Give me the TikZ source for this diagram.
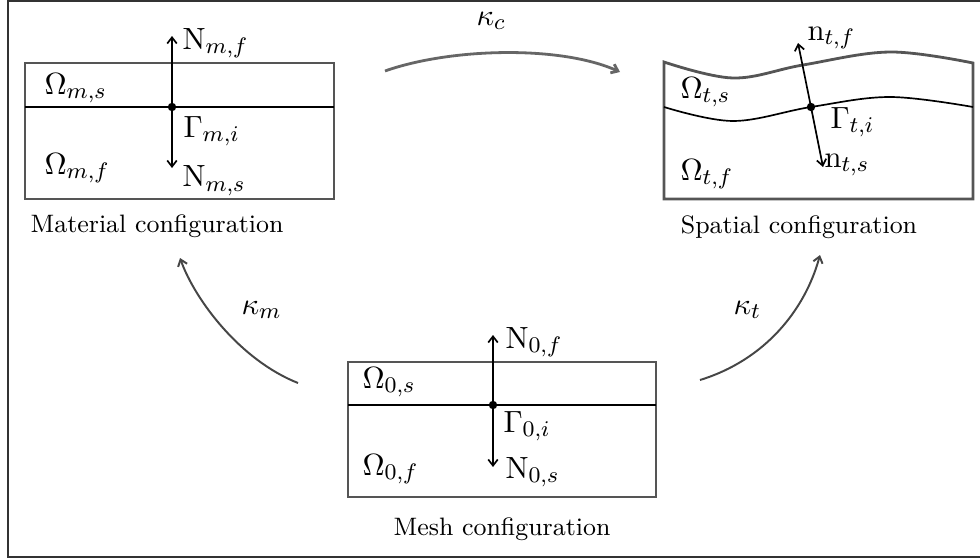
\documentclass[tikz,border=0pt]{standalone}
\usepackage{amsmath}
\usepackage{xcolor}
\definecolor{framegray}{RGB}{50, 50, 50}
\definecolor{boxgray}{RGB}{85, 85, 85}
\definecolor{mapgray}{RGB}{70, 70, 70}
\usetikzlibrary{arrows.meta}

\begin{document}
\begin{tikzpicture}[x=0.357pt, y=-0.357pt,
  outline/.style={boxgray, line width=1pt},
  iface/.style={black, line width=0.6pt},
  normal/.style={black, line width=0.6pt, -{Straight Barb[length=2.2pt, width=3.4pt]}},
  mapping/.style={mapgray, line width=0.7pt, -{Straight Barb[length=2.2pt, width=3.4pt]}},
  sym/.style={font=\fontsize{10.95}{13}\selectfont, anchor=base west, inner sep=0pt},
  caption/.style={font=\fontsize{9}{11}\selectfont, anchor=base, inner sep=0pt}]

  \useasboundingbox (0,0) rectangle (980,560);

  % outer frame, open on the right
  \draw[framegray, line width=0.7pt] (995,1) -- (8,1) -- (8,557) -- (995,557);

  % material configuration
  \draw[outline] (25,63) rectangle (334,199);
  \draw[iface] (25,107) -- (334,107);
  \coordinate (mdot) at (172,107);
  \coordinate (mtop) at (172,36);
  \coordinate (mbot) at (172,168);
  \draw[normal] (mdot) -- (mtop);
  \draw[normal] (mdot) -- (mbot);
  \fill (mdot) circle (1.5pt);
  \node[sym] (Nmf) at (182,49) {$\mathrm{N}_{m,f}$};
  \node[sym] (Oms) at (44,94) {$\Omega_{m,s}$};
  \node[sym] (Gmi) at (183,137) {$\Gamma_{m,i}$};
  \node[sym] (Omf) at (44,174) {$\Omega_{m,f}$};
  \node[sym] (Nms) at (182,187) {$\mathrm{N}_{m,s}$};
  \node[caption] (mat) at (157,232) {Material configuration};

  % spatial configuration (wavy layers)
  \draw[outline] plot[smooth, tension=0.6] coordinates {(664,62) (733,78) (803,65) (890,52) (973,63)}
    -- (973,199) -- (664,199) -- cycle;
  \draw[iface] plot[smooth, tension=0.6] coordinates {(664,107) (733,121) (811,107) (890,97) (973,107)};
  \coordinate (sdot) at (811,107);
  \coordinate (stop) at (798,43);
  \coordinate (sbot) at (823,167);
  \draw[normal] (sdot) -- (stop);
  \draw[normal] (sdot) -- (sbot);
  \fill (sdot) circle (1.5pt);
  \node[sym] (ntf) at (807,40) {$\mathrm{n}_{t,f}$};
  \node[sym] (Ots) at (680,98) {$\Omega_{t,s}$};
  \node[sym] (Gti) at (830,128) {$\Gamma_{t,i}$};
  \node[sym] (nts) at (824,167) {$\mathrm{n}_{t,s}$};
  \node[sym] (Otf) at (680,180) {$\Omega_{t,f}$};
  \node[caption] (spa) at (799,233) {Spatial configuration};

  % mesh configuration
  \draw[outline] (348,362) rectangle (656,497);
  \draw[iface] (348,405) -- (656,405);
  \coordinate (odot) at (493,405);
  \coordinate (otop) at (493,335);
  \coordinate (obot) at (493,467);
  \draw[normal] (odot) -- (otop);
  \draw[normal] (odot) -- (obot);
  \fill (odot) circle (1.5pt);
  \node[sym] (N0f) at (505,348) {$\mathrm{N}_{0,f}$};
  \node[sym] (O0s) at (362,388) {$\Omega_{0,s}$};
  \node[sym] (G0i) at (503,432) {$\Gamma_{0,i}$};
  \node[sym] (O0f) at (362,475) {$\Omega_{0,f}$};
  \node[sym] (N0s) at (505,478) {$\mathrm{N}_{0,s}$};
  \node[caption] (mesh) at (502,535) {Mesh configuration};

  % mappings between configurations
  \coordinate (kcfrom) at (385,71);
  \coordinate (kcto) at (620,72);
  \draw[mapping, boxgray!90, line width=1pt] (kcfrom) .. controls (450,48) and (560,45) .. (kcto);
  \node[sym] (kc) at (476,25) {$\kappa_c$};

  \coordinate (kmfrom) at (298,383);
  \coordinate (kmto) at (180,258);
  \draw[mapping] (kmfrom) .. controls (240,360) and (195,300) .. (kmto);
  \node[sym] (km) at (241,314) {$\kappa_m$};

  \coordinate (ktfrom) at (700,380);
  \coordinate (ktto) at (820,255);
  \draw[mapping] (ktfrom) .. controls (765,360) and (805,310) .. (ktto);
  \node[sym] (kt) at (733,314) {$\kappa_t$};

\end{tikzpicture}
\end{document}
